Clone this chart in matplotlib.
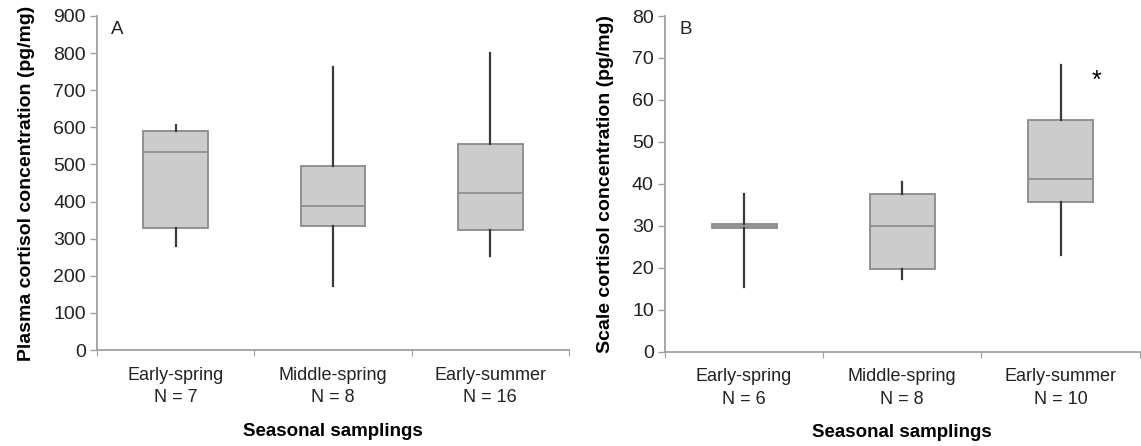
import matplotlib.pyplot as plt

plt.rcParams['font.family'] = ['Liberation Sans', 'DejaVu Sans']

# categories and sample sizes
seasons = ["Early-spring", "Middle-spring", "Early-summer"]
n_plasma = [7, 8, 16]
n_scale = [6, 8, 10]

# plasma cortisol (pg/mg): whisker low, Q1, median, Q3, whisker high
plasma_low = [280, 172, 253]
plasma_q1 = [328, 334, 323]
plasma_med = [534, 388, 422]
plasma_q3 = [591, 496, 554]
plasma_high = [606, 763, 801]

# scale cortisol (pg/mg)
scale_low = [15.5, 17.4, 23.0]
scale_q1 = [29.4, 19.6, 35.6]
scale_med = [30.0, 30.0, 41.2]
scale_q3 = [30.5, 37.6, 55.1]
scale_high = [37.6, 40.4, 68.3]

star_pos = (3.23, 64.5)  # significance mark on early-summer


def make_stats(low, q1, med, q3, high):
    return [dict(whislo=a, q1=b, med=c, q3=d, whishi=e)
            for a, b, c, d, e in zip(low, q1, med, q3, high)]


def draw(ax, stats, nlist, ymax, ystep, ylabel, letter):
    ax.bxp(stats, positions=[1, 2, 3], widths=0.41, showfliers=False,
           showcaps=False, patch_artist=True,
           boxprops=dict(facecolor='#cccccc', edgecolor='#8a8a8a', linewidth=1.3),
           medianprops=dict(color='#8a8a8a', linewidth=1.2),
           whiskerprops=dict(color='#3a3a3a', linewidth=1.6),
           zorder=3)
    ax.set_xlim(0.5, 3.5)
    ax.set_ylim(0, ymax)
    ax.set_yticks(range(0, ymax + 1, ystep))
    ax.set_xticks([0.5, 1.5, 2.5, 3.5])
    ax.set_xticklabels([])
    ax.set_xticks([1, 2, 3], minor=True)
    ax.set_xticklabels([f"{s}\nN = {n}" for s, n in zip(seasons, nlist)], minor=True,
                       linespacing=1.4)
    ax.tick_params(axis='x', which='minor', length=0, pad=12, labelsize=13,
                   colors='#222222')
    ax.tick_params(axis='x', which='major', length=4, color='#a0a0a0')
    ax.tick_params(axis='y', length=5, width=1, color='#a0a0a0', labelsize=14,
                   labelcolor='#222222', pad=3)
    for s in ['top', 'right']:
        ax.spines[s].set_visible(False)
    for s in ['left', 'bottom']:
        ax.spines[s].set_color('#a0a0a0')
        ax.spines[s].set_linewidth(1.3)
    ax.set_ylabel(ylabel, fontsize=14, fontweight='bold', labelpad=13)
    ax.set_xlabel("Seasonal samplings", fontsize=13.5, fontweight='bold', labelpad=12)
    ax.text(0.03, 0.985, letter, transform=ax.transAxes, fontsize=13.5,
            va='top', ha='left', color='#222222')


fig = plt.figure(figsize=(11.41, 4.46), dpi=100)
ax1 = fig.add_axes([0.085, 0.2152, 0.4137, 0.749])
ax2 = fig.add_axes([0.5828, 0.2114, 0.416, 0.7527])

draw(ax1, make_stats(plasma_low, plasma_q1, plasma_med, plasma_q3, plasma_high),
     n_plasma, 900, 100, "Plasma cortisol concentration (pg/mg)", "A")
draw(ax2, make_stats(scale_low, scale_q1, scale_med, scale_q3, scale_high),
     n_scale, 80, 10, "Scale cortisol concentration (pg/mg)", "B")
ax2.text(star_pos[0], star_pos[1], "*", fontsize=18, ha='center', va='center')

fig.savefig("out.png", dpi=100)
